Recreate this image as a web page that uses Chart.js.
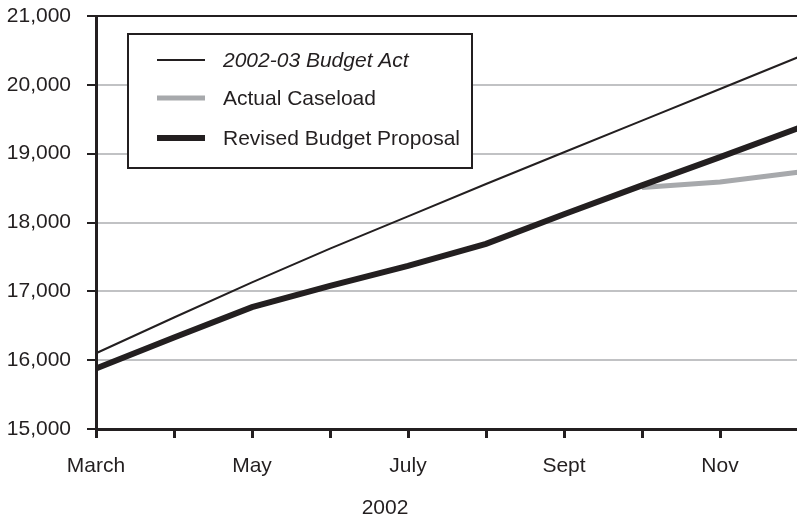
<!DOCTYPE html>
<html>
<head>
<meta charset="utf-8">
<script src="https://cdn.jsdelivr.net/npm/chart.js@4"></script>
<style>
  html, body { margin: 0; padding: 0; background: #fff; overflow: hidden; }
  #wrap { width: 814px; height: 522px; }
</style>
</head>
<body>
<div id="wrap"><canvas id="chart" width="814" height="522"></canvas></div>
<script>
const months = ["March", "Apr", "May", "June", "July", "Aug", "Sept", "Oct", "Nov", "Dec"];
const tickLabels = ["March", "", "May", "", "July", "", "Sept", "", "Nov", ""];
const budgetAct = [16100, 16620, 17130, 17620, 18090, 18560, 19020, 19480, 19940, 20400];
const actualCaseload = [null, null, null, null, null, null, null, 18510, 18590, 18730];
const revisedProposal = [15880, 16330, 16770, 17080, 17370, 17690, 18120, 18540, 18950, 19370];
const xTitle = "2002";

const INK = "#231f20";
const GRAY = "#a7a9ac";
const GRID = "#c1c2c4";
const FONT = "'Liberation Sans', Arial, sans-serif";

Chart.defaults.font.family = FONT;
Chart.defaults.font.size = 21;
Chart.defaults.color = INK;

// boxed legend inside the plot, first entry italic
const boxLegend = {
  id: "boxLegend",
  afterDraw(chart) {
    const ctx = chart.ctx;
    const items = [
      { ds: chart.data.datasets[0], italic: true },
      { ds: chart.data.datasets[1], italic: false },
      { ds: chart.data.datasets[2], italic: false },
    ];
    ctx.save();
    ctx.fillStyle = "#fff";
    ctx.fillRect(128, 34, 344, 134);
    ctx.strokeStyle = INK;
    ctx.lineWidth = 2;
    ctx.strokeRect(128, 34, 344, 134);
    const rows = [60, 98, 138];
    items.forEach((it, i) => {
      const y = rows[i];
      ctx.beginPath();
      ctx.strokeStyle = it.ds.borderColor;
      ctx.lineWidth = it.ds.borderWidth;
      ctx.moveTo(157, y);
      ctx.lineTo(205, y);
      ctx.stroke();
      ctx.fillStyle = INK;
      ctx.font = (it.italic ? "italic " : "") + "21px " + FONT;
      ctx.textBaseline = "middle";
      ctx.textAlign = "left";
      ctx.fillText(it.ds.label, 223, y + 1);
    });
    // x axis title
    ctx.font = "21px " + FONT;
    ctx.textAlign = "center";
    ctx.fillText(xTitle, 385, 508);
    ctx.restore();
  }
};

new Chart(document.getElementById("chart"), {
  type: "line",
  data: {
    labels: months,
    datasets: [
      {
        label: "2002-03 Budget Act",
        data: budgetAct,
        borderColor: INK,
        borderWidth: 2,
        pointRadius: 0,
        tension: 0,
        order: 0,
      },
      {
        label: "Actual Caseload",
        data: actualCaseload,
        borderColor: GRAY,
        borderWidth: 5,
        pointRadius: 0,
        tension: 0,
        order: 2,
      },
      {
        label: "Revised Budget Proposal",
        data: revisedProposal,
        borderColor: INK,
        borderWidth: 6,
        pointRadius: 0,
        tension: 0,
        order: 1,
      },
    ]
  },
  options: {
    responsive: false,
    animation: false,
    layout: { padding: { top: 16, right: 4, left: 0, bottom: 0 } },
    plugins: {
      legend: { display: false },
      tooltip: { enabled: false },
    },
    scales: {
      x: {
        offset: false,
        afterFit: (s) => { s.height = 93; },
        grid: {
          drawOnChartArea: false,
          drawTicks: true,
          tickLength: 9,
          tickColor: INK,
          tickWidth: 3,
        },
        border: { color: INK, width: 3 },
        ticks: {
          autoSkip: false,
          maxRotation: 0,
          padding: 16,
          callback: (v, i) => tickLabels[i],
        },
      },
      y: {
        min: 15000,
        max: 21000,
        afterFit: (s) => {
          s.width = 96;
          s.paddingTop = 0;
          s.paddingBottom = 0;
        },
        grid: {
          color: (c) => (c.tick && c.tick.value === 21000 ? INK : GRID),
          lineWidth: 2,
          tickLength: 9,
          tickColor: INK,
          tickWidth: 2,
        },
        border: { color: INK, width: 3 },
        ticks: {
          stepSize: 1000,
          padding: 16,
          callback: (v) => v.toLocaleString("en-US"),
        },
      },
    },
  },
  plugins: [boxLegend],
});
</script>
</body>
</html>
